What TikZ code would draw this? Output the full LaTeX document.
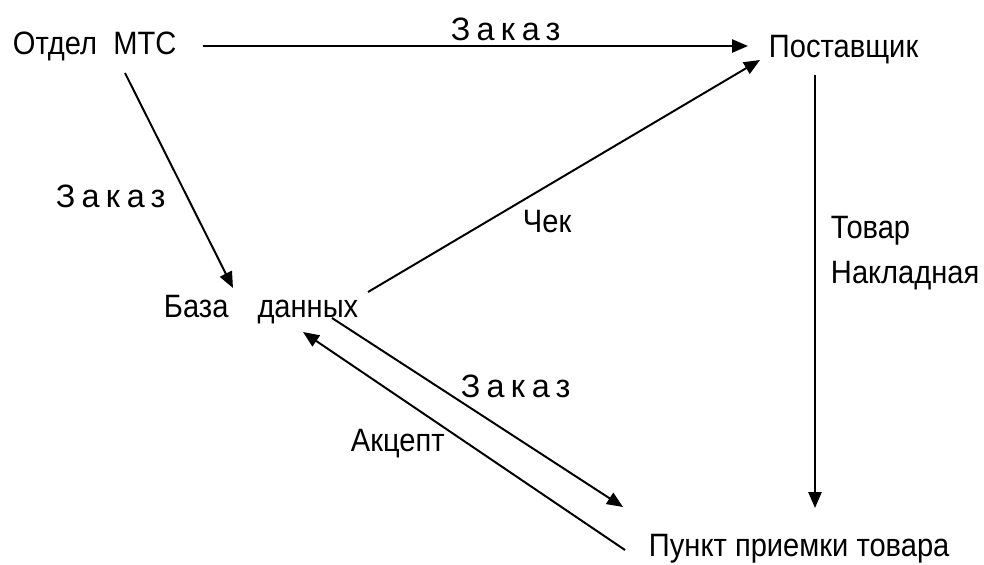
\documentclass[tikz,border=0pt]{standalone}
\usepackage{fontspec}
\setmainfont[FakeStretch=0.9]{Liberation Sans}
\newfontfamily\spacedfont[LetterSpace=19]{Liberation Sans}
\usetikzlibrary{arrows.meta,calc}

\begin{document}
\begin{tikzpicture}[x=.25mm,y=-.25mm,line width=1.4pt,
  every node/.style={font=\fontsize{23}{32}\selectfont,inner sep=0pt,anchor=base west},
  arr/.style={-{Triangle[length=4mm,width=3.3mm]}},
  zak/.style={font=\fontsize{23}{32}\spacedfont}]
\useasboundingbox (0,0) rectangle (984,564);
\node (mts) at (12,54) {Отдел\hspace{.5em}МТС};
\node (post) at (768,57) {Поставщик};
\node (baza) at (163,317) {База\hspace{.9em}данных};
\node (punkt) at (648,556) {Пункт приемки товара};
% arrows
\draw[arr] ([shift={(191,-8)}]mts.base west) -- ([shift={(-20,-11)}]post.base west);
\draw[arr] ([shift={(113,19)}]mts.base west) -- ([shift={(70,-29)}]baza.base west);
\draw[arr] ([shift={(205,-25)}]baza.base west) -- ([shift={(-8,3)}]post.base west);
\draw[arr] ([shift={(47,18)}]post.base west) -- ([shift={(167,-48)}]punkt.base west);
\draw[arr] ([shift={(169,1)}]baza.base west) -- ([shift={(-25,-49)}]punkt.base west);
\draw[arr] ([shift={(-23,-6)}]punkt.base west) -- ([shift={(140,15)}]baza.base west);
% labels
\node[zak] (z1) at (450,40) {Заказ};
\node[zak] (z2) at (55,207) {Заказ};
\node[zak] (z3) at (460,397) {Заказ};
\node (chek) at (522,232) {Чек};
\node (akc) at (350,451) {Акцепт};
\node[align=left] (tov) at (830,283) {Товар\\Накладная};
\end{tikzpicture}
\end{document}
